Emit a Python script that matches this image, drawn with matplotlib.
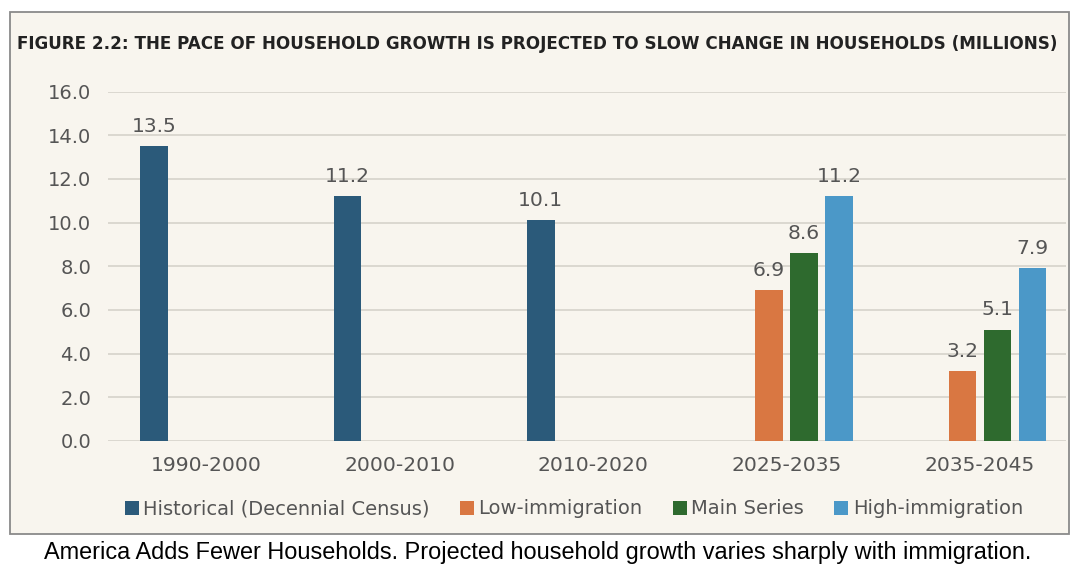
import numpy as np
import matplotlib
matplotlib.use("Agg")
import matplotlib.pyplot as plt
from matplotlib.patches import Rectangle, Patch
from matplotlib.textpath import TextPath
from matplotlib.font_manager import FontProperties

categories = ['1990-2000', '2000-2010', '2010-2020', '2025-2035', '2035-2045']
historical = [13.5, 11.2, 10.1, np.nan, np.nan]
low_imm = [np.nan, np.nan, np.nan, 6.9, 3.2]
main_series = [np.nan, np.nan, np.nan, 8.6, 5.1]
high_imm = [np.nan, np.nan, np.nan, 11.2, 7.9]
series_names = ['Historical (Decennial Census)', 'Low-immigration', 'Main Series', 'High-immigration']
y_ticks = [0, 2, 4, 6, 8, 10, 12, 14, 16]
title = 'FIGURE 2.2: THE PACE OF HOUSEHOLD GROWTH IS PROJECTED TO SLOW CHANGE IN HOUSEHOLDS (MILLIONS)'
caption = 'America Adds Fewer Households. Projected household growth varies sharply with immigration.'

colors = ['#2b5a7a', '#d97742', '#2e6a2e', '#4b98c8']
BG = '#f8f5ee'
TXT = '#555555'

body_font = 'DejaVu Sans'
cap_font = 'Liberation Sans'


def fit_size(s, target_px, family, weight='normal'):
    tp = TextPath((0, 0), s, size=100, prop=FontProperties(family=family, weight=weight))
    w = tp.get_extents().width  # in points at size 100
    return 100 * target_px / w * 72 / 100


tick_fs = fit_size('1990-2000', 107, body_font)
ytick_fs = fit_size('16.0', 40, body_font)
leg_fs = fit_size(series_names[0], 283, body_font)

W, H = 1084, 580
fig = plt.figure(figsize=(W / 100, H / 100), dpi=100, facecolor='white')

# chart box
fig.patches.append(Rectangle((10 / W, 1 - 534 / H), 1059 / W, 522 / H, transform=fig.transFigure,
                             facecolor=BG, edgecolor='#8a8a8a', linewidth=1.3, zorder=-5))

ax = fig.add_axes([108 / W, (H - 441) / H, (1066 - 108) / W, (441 - 91.5) / H])
ax.set_facecolor('none')
ax.set_zorder(2)

x = np.arange(len(categories))
slot = 35 / 193.4
width = 27.5 / 193.4
all_series = [historical, low_imm, main_series, high_imm]
for i, (vals, c) in enumerate(zip(all_series, colors)):
    off = (i - 1.5) * slot
    bars = ax.bar(x + off, vals, width, color=c, zorder=3, label=series_names[i])
    labels = ['' if np.isnan(v) else f'{v:.1f}' for v in vals]
    ax.bar_label(bars, labels=labels, padding=7.5, color=TXT, fontsize=tick_fs, family=body_font)

ax.set_xlim(-0.51, 4.445)
ax.set_ylim(0, 16)
ax.set_yticks(y_ticks)
ax.set_yticklabels([f'{v:.1f}' for v in y_ticks])
ax.set_xticks(x)
ax.set_xticklabels(categories)
ax.tick_params(axis='both', length=0, colors=TXT)
ax.tick_params(axis='x', pad=11, labelsize=tick_fs)
ax.tick_params(axis='y', pad=12, labelsize=ytick_fs)
for lab in ax.get_xticklabels() + ax.get_yticklabels():
    lab.set_family(body_font)
ax.grid(axis='y', color='#d3d0c8', linewidth=1.1, zorder=0)
ax.set_axisbelow(True)
for s in ax.spines.values():
    s.set_visible(False)

handles = [Patch(facecolor=c, edgecolor='none') for c in colors]
leg = fig.legend(handles, series_names, loc='center', bbox_to_anchor=(574 / W, 1 - 509 / H),
                 ncol=4, frameon=False, handlelength=0.7, handleheight=0.7, handletextpad=0.25,
                 columnspacing=1.55, prop={'family': body_font, 'size': leg_fs})
for t in leg.get_texts():
    t.set_color(TXT)

fig.text(537 / W, 1 - 44 / H, title, ha='center', va='center',
         fontsize=fit_size(title, 1040, body_font, 'bold'),
         fontweight='bold', family=body_font, color='#222222')
fig.text(538 / W, 1 - 553 / H, caption, ha='center', va='center',
         fontsize=fit_size(caption, 983, cap_font), family=cap_font, color='black')

fig.savefig('out.png', dpi=100, facecolor='white')
